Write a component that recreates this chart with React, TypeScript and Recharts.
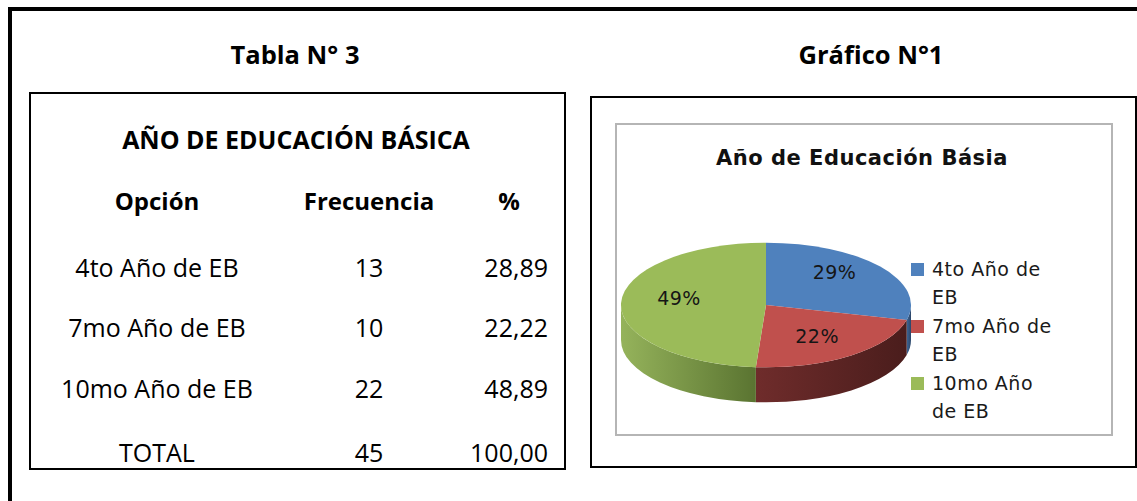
import React from 'react';
import { PieChart, Pie, Cell, Legend } from 'recharts';

// Tabla N° 3 / Gráfico N°1 data
const categories = ['4to Año de EB', '7mo Año de EB', '10mo Año de EB'];
const frequencies = [13, 10, 22];
const percents = ['28,89', '22,22', '48,89'];
const headers = ['Opción', 'Frecuencia', '%'];
const totalRow = ['TOTAL', '45', '100,00'];

const topColors = ['#4f81bd', '#c0504d', '#9bbb59'];
const sideLight = ['#3e6596', '#6f2c2b', '#95b35b'];
const sideDark = ['#2b4669', '#4a1d1c', '#5a7431'];

const pieData = categories.map((name, i) => ({ name, value: frequencies[i] }));

const TILT = 0.43;
const DEPTH = 35;
const TABLE_FONT = '"Open Sans", sans-serif';
const CHART_FONT = '"DejaVu Sans", sans-serif';

function onEllipse(cx: number, cy: number, rx: number, ry: number, deg: number) {
  const r = (deg * Math.PI) / 180;
  return [cx + rx * Math.cos(r), cy - ry * Math.sin(r)];
}

// 3D slice: elliptical top face plus the visible front wall
function Slice3D(props: any) {
  const { cx, cy, outerRadius, startAngle, endAngle, fill } = props;
  let idx = props.index;
  if (idx === undefined) idx = categories.indexOf(props.name ?? props.payload?.name);
  const rx = outerRadius;
  const ry = rx * TILT;
  const hi = Math.max(startAngle, endAngle);
  const lo = Math.min(startAngle, endAngle);

  const walls: number[][] = [];
  for (let k = -2; k <= 1; k++) {
    const a = Math.max(lo, -180 + 360 * k);
    const b = Math.min(hi, 360 * k);
    if (b > a) walls.push([a, b]);
  }

  const [sx, sy] = onEllipse(cx, cy, rx, ry, hi);
  const [ex, ey] = onEllipse(cx, cy, rx, ry, lo);
  const large = hi - lo > 180 ? 1 : 0;
  const top = `M${cx},${cy} L${sx},${sy} A${rx},${ry} 0 ${large} 1 ${ex},${ey} Z`;
  const gid = `side-grad-${idx}`;

  return (
    <g>
      <defs>
        <linearGradient id={gid} x1="0" y1="0" x2="1" y2="0">
          <stop offset="0%" stopColor={sideLight[idx]} />
          <stop offset="100%" stopColor={sideDark[idx]} />
        </linearGradient>
      </defs>
      {walls.map(([a, b], i) => {
        const [ax, ay] = onEllipse(cx, cy, rx, ry, a);
        const [bx, by] = onEllipse(cx, cy, rx, ry, b);
        const d = `M${bx},${by} A${rx},${ry} 0 0 1 ${ax},${ay} L${ax},${ay + DEPTH} A${rx},${ry} 0 0 0 ${bx},${by + DEPTH} Z`;
        return <path key={i} d={d} fill={`url(#${gid})`} stroke="none" />;
      })}
      <path d={top} fill={fill} stroke="none" />
    </g>
  );
}

function renderLabel(props: any) {
  const { cx, cy, outerRadius, midAngle, percent } = props;
  const [x, y] = onEllipse(cx, cy, outerRadius * 0.6, outerRadius * TILT * 0.72, midAngle);
  return (
    <text
      x={x}
      y={y - 5}
      textAnchor="middle"
      dominantBaseline="central"
      fontFamily={CHART_FONT}
      fontSize={19}
      letterSpacing={0.5}
      fill="#151515"
    >
      {`${Math.round(percent * 100)}%`}
    </text>
  );
}

function renderLegend(props: any) {
  const items = [...(props.payload || [])].sort(
    (a: any, b: any) => categories.indexOf(a.value) - categories.indexOf(b.value)
  );
  return (
    <div>
      {items.map((entry: any, i: number) => (
        <div key={i} style={{ display: 'flex', alignItems: 'flex-start' }}>
          <span
            style={{
              display: 'inline-block',
              width: 13,
              height: 13,
              background: entry.color,
              marginTop: 8,
              marginRight: 8,
              flexShrink: 0,
            }}
          />
          <span
            style={{
              width: 125,
              fontFamily: CHART_FONT,
              fontSize: 19,
              lineHeight: '28.4px',
              letterSpacing: 0.5,
              color: '#1a1a1a',
            }}
          >
            {entry.value}
          </span>
        </div>
      ))}
    </div>
  );
}

function Txt({ x, y, align = 'center', bold = false, size = 24, children }: any) {
  const tx = align === 'center' ? '-50%' : align === 'right' ? '-100%' : '0';
  return (
    <div
      style={{
        position: 'absolute',
        left: x,
        top: y,
        transform: `translate(${tx}, -50%)`,
        whiteSpace: 'nowrap',
        fontFamily: TABLE_FONT,
        fontWeight: bold ? 700 : 400,
        fontSize: size,
        lineHeight: 1,
        color: '#000',
      }}
    >
      {children}
    </div>
  );
}

const colX = [157, 369, 548];
const rowY = [267, 327, 388, 452];

export default function App() {
  const rows = categories.map((c, i) => [c, String(frequencies[i]), percents[i]]).concat([totalRow]);

  return (
    <div
      style={{
        position: 'fixed',
        left: 0,
        top: 0,
        width: 1137,
        height: 501,
        overflow: 'hidden',
        background: '#fff',
      }}
    >
      {/* outer frame */}
      <div
        style={{
          position: 'absolute',
          left: 8,
          top: 7,
          width: 1300,
          height: 700,
          borderTop: '4px solid #000',
          borderLeft: '4px solid #000',
        }}
      />

      <Txt x={295} y={55} bold size={25.5}>Tabla N° 3</Txt>
      <Txt x={871} y={55} bold size={25.5}>Gráfico N°1</Txt>

      {/* table */}
      <div
        style={{
          position: 'absolute',
          left: 29,
          top: 92,
          width: 537,
          height: 378,
          border: '2px solid #000',
          boxSizing: 'border-box',
        }}
      />
      <Txt x={296} y={139} bold size={25}>AÑO DE EDUCACIÓN BÁSICA</Txt>
      <Txt x={colX[0]} y={201} bold size={24}>{headers[0]}</Txt>
      <Txt x={colX[1]} y={201} bold size={24}>{headers[1]}</Txt>
      <Txt x={509} y={201} bold size={24}>{headers[2]}</Txt>
      {rows.map((r, i) => (
        <React.Fragment key={i}>
          <Txt x={colX[0]} y={rowY[i]} size={25}>{r[0]}</Txt>
          <Txt x={colX[1]} y={rowY[i]} size={25}>{r[1]}</Txt>
          <Txt x={colX[2]} y={rowY[i]} align="right" size={25}>{r[2]}</Txt>
        </React.Fragment>
      ))}

      {/* chart frame */}
      <div
        style={{
          position: 'absolute',
          left: 590,
          top: 96,
          width: 547,
          height: 372,
          border: '2px solid #000',
          boxSizing: 'border-box',
        }}
      />
      <div
        style={{
          position: 'absolute',
          left: 615,
          top: 123,
          width: 498,
          height: 313,
          border: '2px solid #b5b5b5',
          boxSizing: 'border-box',
        }}
      />
      <div
        style={{
          position: 'absolute',
          left: 862,
          top: 158,
          transform: 'translate(-50%, -50%)',
          whiteSpace: 'nowrap',
          fontFamily: CHART_FONT,
          fontWeight: 700,
          fontSize: 21,
          letterSpacing: 0.5,
          lineHeight: 1,
          color: '#111',
        }}
      >
        Año de Educación Básia
      </div>

      <div style={{ position: 'absolute', left: 617, top: 125 }}>
        <PieChart width={494} height={309} margin={{ top: 0, right: 0, bottom: 0, left: 0 }}>
          <Pie
            data={pieData}
            dataKey="value"
            nameKey="name"
            cx={149}
            cy={180}
            outerRadius={145}
            startAngle={90}
            endAngle={-270}
            stroke="none"
            isAnimationActive={false}
            shape={Slice3D}
            label={renderLabel}
            labelLine={false}
          >
            {pieData.map((d, i) => (
              <Cell key={d.name} fill={topColors[i]} />
            ))}
          </Pie>
          <Legend
            layout="vertical"
            content={renderLegend}
            wrapperStyle={{ position: 'absolute', left: 294, top: 130, width: 170, bottom: 'auto', right: 'auto' }}
          />
        </PieChart>
      </div>
    </div>
  );
}
